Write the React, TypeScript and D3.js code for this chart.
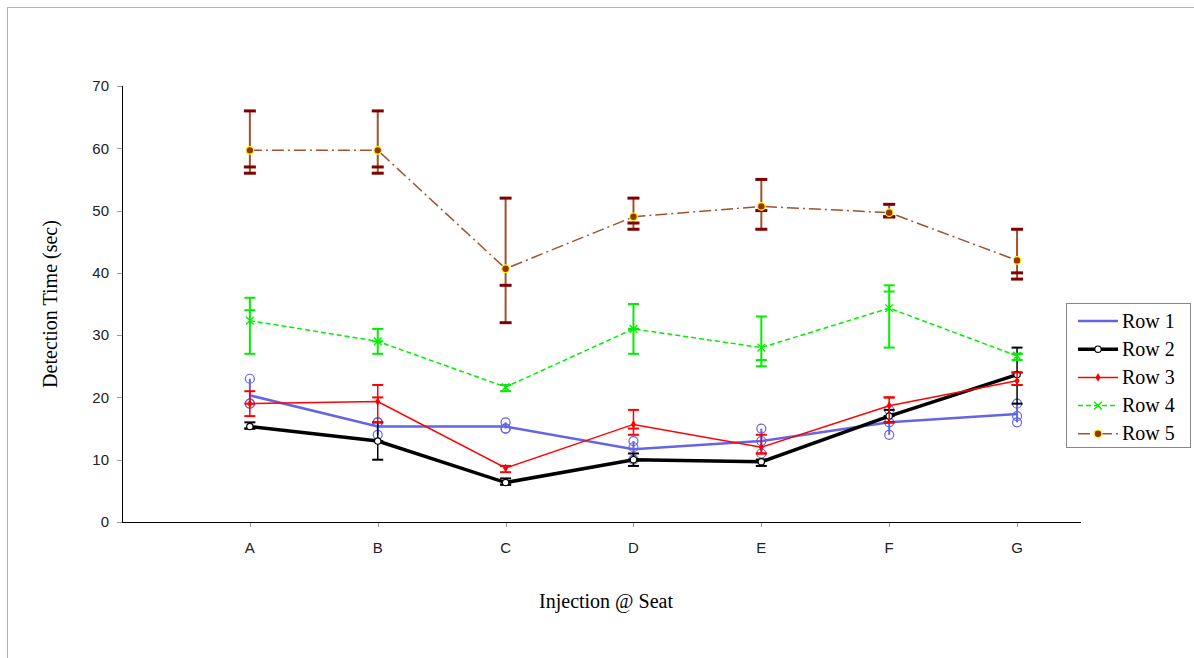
import React from 'react';
import * as d3 from 'd3';

const categories = ['A', 'B', 'C', 'D', 'E', 'F', 'G'];
const yTicks = [0, 10, 20, 30, 40, 50, 60, 70];
const seriesNames = ['Row 1', 'Row 2', 'Row 3', 'Row 4', 'Row 5'];

const row1Mean = [20.33, 15.33, 15.33, 11.67, 13, 16, 17.33];
const row2Mean = [15.33, 13, 6.33, 10, 9.67, 17, 23.67];
const row3Mean = [19, 19.33, 8.67, 15.67, 12, 18.67, 22.67];
const row4Mean = [32.33, 29, 21.67, 31, 28, 34.33, 26.67];
const row5Mean = [59.67, 59.67, 40.67, 49, 50.67, 49.67, 42];

const row1Trials = [[23, 19, 19], [16, 16, 14], [16, 15, 15], [13, 12, 10], [15, 13, 11], [18, 16, 14], [19, 17, 16]];
const row2Trials = [[16, 15, 15], [16, 13, 10], [7, 6, 6], [11, 10, 9], [10, 10, 9], [18, 17, 16], [28, 24, 19]];
const row3Trials = [[21, 19, 17], [22, 20, 16], [9, 9, 8], [18, 15, 14], [14, 11, 11], [20, 20, 16], [24, 22, 22]];
const row4Trials = [[36, 34, 27], [31, 29, 27], [22, 22, 21], [35, 31, 27], [33, 26, 25], [38, 37, 28], [27, 27, 26]];
const row5Trials = [[66, 57, 56], [66, 57, 56], [52, 38, 32], [52, 48, 47], [55, 50, 47], [51, 49, 49], [47, 40, 39]];

type Style = {
  color: string; width: number; dash?: string; capColor: string; capW: number; capH: number;
  barColor: string; barW: number; marker: string;
};

const styles: Style[] = [
  { color: '#6464e6', width: 2.5, capColor: '#6464e6', capW: 0, capH: 0, barColor: '#6464e6', barW: 2, marker: 'none' },
  { color: '#000000', width: 3.5, capColor: '#000000', capW: 11, capH: 2, barColor: '#000000', barW: 1.5, marker: 'opencircle' },
  { color: '#ff0000', width: 1.5, capColor: '#ff0000', capW: 11, capH: 2, barColor: '#ff0000', barW: 1.5, marker: 'diamond' },
  { color: '#00ee00', width: 1.5, dash: '5,3', capColor: '#00ee00', capW: 11, capH: 2, barColor: '#00ee00', barW: 2, marker: 'x' },
  { color: '#a0522d', width: 1.5, dash: '12,4,2,4', capColor: '#800000', capW: 12, capH: 3, barColor: '#a0522d', barW: 2, marker: 'dot' },
];

const means = [row1Mean, row2Mean, row3Mean, row4Mean, row5Mean];
const trials = [row1Trials, row2Trials, row3Trials, row4Trials, row5Trials];

const W = 1194, H = 658;
const x = d3.scaleLinear().domain([0, 7.5]).range([122, 1081]);
const y = d3.scaleLinear().domain([0, 70]).range([522, 86]);

function Marker({ kind, cx, cy, s }: { kind: string; cx: number; cy: number; s: Style }) {
  if (kind === 'opencircle') return <circle cx={cx} cy={cy} r={3.2} fill="#fff" stroke="#000" strokeWidth={1.2} />;
  if (kind === 'diamond') return <path d={d3.symbol(d3.symbolDiamond, 22)()!} transform={`translate(${cx},${cy})`} fill="#ff0000" />;
  if (kind === 'x') return <path d={d3.symbol(d3.symbolX, 40)()!} transform={`translate(${cx},${cy})`} fill="none" stroke={s.color} strokeWidth={1.3} />;
  if (kind === 'dot') return <circle cx={cx} cy={cy} r={3.8} fill="#993300" stroke="#ffff00" strokeWidth={1.2} />;
  return null;
}

export default function App() {
  const line = d3.line<number>().x((_, i) => x(i + 1)).y(d => y(d));
  return (
    <svg width={W} height={H} style={{ display: 'block', position: 'absolute', left: 0, top: 0 }}>
      <rect x={0} y={0} width={W} height={H} fill="#fff" />
      <rect x={7.5} y={7.5} width={1300} height={800} fill="none" stroke="#b3b3b3" strokeWidth={1} />
      {/* Y axis */}
      <line x1={122.5} x2={122.5} y1={y(70)} y2={y(0)} stroke="#000" strokeWidth={1} />
      {yTicks.map(t => (
        <g key={t}>
          <line x1={117} x2={122} y1={Math.round(y(t)) + 0.5} y2={Math.round(y(t)) + 0.5} stroke="#999" />
          <text x={109} y={y(t)} dy="0.35em" textAnchor="end" fontFamily="Liberation Sans, Arial, sans-serif" fontSize={15} fill="#222">{t}</text>
        </g>
      ))}
      {/* X axis */}
      <line x1={122} x2={1081} y1={522.5} y2={522.5} stroke="#000" strokeWidth={1} />
      {categories.map((c, i) => (
        <g key={c}>
          <line x1={Math.round(x(i + 1)) + 0.5} x2={Math.round(x(i + 1)) + 0.5} y1={523} y2={527} stroke="#999" />
          <text x={x(i + 1)} y={553} textAnchor="middle" fontFamily="Liberation Sans, Arial, sans-serif" fontSize={15} fill="#222">{c}</text>
        </g>
      ))}
      <text transform={`translate(57,304) rotate(-90)`} textAnchor="middle" fontFamily="Liberation Serif, Times New Roman, serif" fontSize={20} fill="#000">Detection Time (sec)</text>
      <text x={606} y={608} textAnchor="middle" fontFamily="Liberation Serif, Times New Roman, serif" fontSize={20} fill="#000">Injection @ Seat</text>

      {means.map((m, si) => {
        const s = styles[si];
        return (
          <g key={si}>
            {trials[si].map((tr, i) => {
              const cx = x(i + 1);
              const lo = Math.min(...tr), hi = Math.max(...tr);
              return (
                <g key={i}>
                  <line x1={cx} x2={cx} y1={y(lo)} y2={y(hi)} stroke={s.barColor} strokeWidth={s.barW} />
                  {si === 0
                    ? tr.map((v, k) => <circle key={k} cx={cx} cy={y(v)} r={4.5} fill="none" stroke={s.color} strokeWidth={1.2} />)
                    : tr.map((v, k) => (
                      <line key={k} x1={cx - s.capW / 2} x2={cx + s.capW / 2} y1={y(v)} y2={y(v)} stroke={s.capColor} strokeWidth={s.capH} />
                    ))}
                </g>
              );
            })}
            <path d={line(m)!} fill="none" stroke={s.color} strokeWidth={s.width} strokeDasharray={s.dash} />
            {m.map((v, i) => <Marker key={i} kind={s.marker} cx={x(i + 1)} cy={y(v)} s={s} />)}
          </g>
        );
      })}

      {/* Legend */}
      <rect x={1066.5} y={303.5} width={124} height={144} fill="#fff" stroke="#888" strokeWidth={1} />
      {seriesNames.map((n, i) => {
        const s = styles[i];
        const ly = 321 + i * 28.2;
        return (
          <g key={n}>
            <line x1={1078} x2={1118} y1={ly} y2={ly} stroke={s.color} strokeWidth={s.width} strokeDasharray={s.dash} />
            <Marker kind={s.marker} cx={1098} cy={ly} s={s} />
            <text x={1122} y={ly} dy="0.33em" fontFamily="Liberation Serif, Times New Roman, serif" fontSize={20} fill="#000">{n}</text>
          </g>
        );
      })}
    </svg>
  );
}
